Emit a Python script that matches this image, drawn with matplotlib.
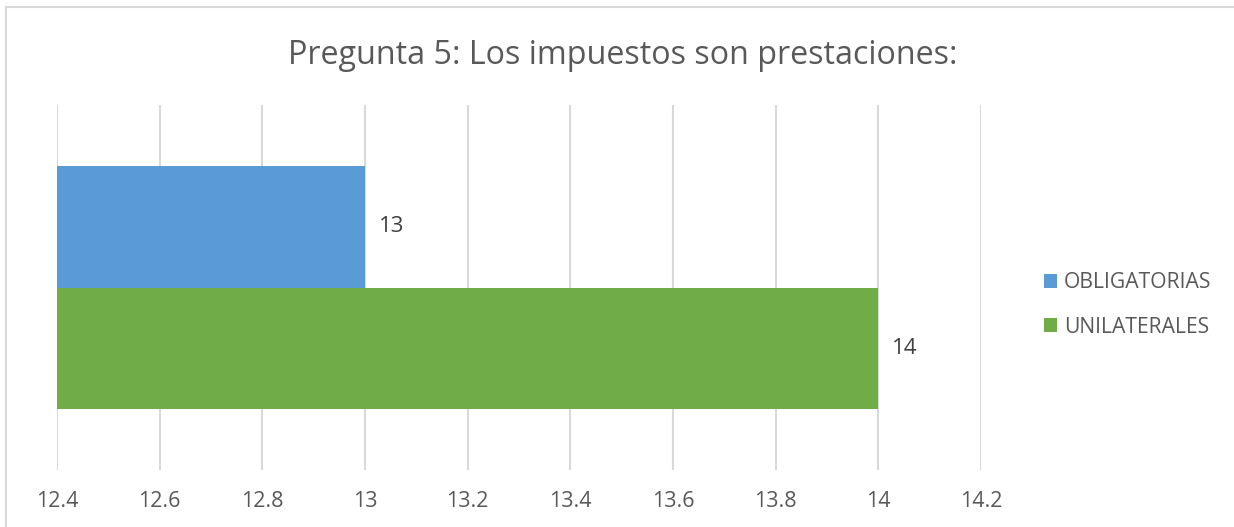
import matplotlib
matplotlib.use("Agg")
import matplotlib.pyplot as plt
from matplotlib.lines import Line2D
from matplotlib.patches import Patch

title = "Pregunta 5: Los impuestos son prestaciones:"
series_names = ["OBLIGATORIAS", "UNILATERALES"]
values = [13, 14]
colors = ["#5B9BD5", "#70AD47"]
xticks = [12.4, 12.6, 12.8, 13, 13.2, 13.4, 13.6, 13.8, 14, 14.2]
xtick_labels = ["12.4", "12.6", "12.8", "13", "13.2", "13.4", "13.6", "13.8", "14", "14.2"]

W, H = 1234, 527
plt.rcParams['font.family'] = ['Open Sans', 'DejaVu Sans']
fig = plt.figure(figsize=(W / 100, H / 100), dpi=100)
text_color = "#595959"

ax = fig.add_axes([57 / W, 1 - 470 / H, (981 - 57) / W, (470 - 105) / H])
ypos = [2, 1]
for y, v, c, n in zip(ypos, values, colors, series_names):
    ax.barh(y, v - xticks[0], left=xticks[0], height=1.0, color=c, label=n, zorder=2)
    ax.annotate(f"{v:g}", xy=(v, y), xytext=(10, 0), textcoords="offset points",
                va="center", ha="left", fontsize=16, color="#404040")

ax.set_xlim(xticks[0], xticks[-1])
ax.set_ylim(0, 3)
ax.set_xticks(xticks)
ax.set_xticklabels(xtick_labels, fontsize=15.5, color=text_color)
ax.set_yticks([])
ax.tick_params(axis='x', length=0, pad=15)
ax.grid(axis='x', color="#D9D9D9", linewidth=1.5, zorder=0)
for s in ax.spines.values():
    s.set_visible(False)

fig.text(623 / W, 1 - 55 / H, title, ha="center", va="center", fontsize=23.2, color=text_color)

handles = [Patch(facecolor=c, edgecolor='none') for c in colors]
fig.legend(handles, series_names, loc="center left", bbox_to_anchor=(1025 / W, 1 - 305 / H),
           frameon=False, fontsize=15.2, labelcolor=text_color, handlelength=0.6, handleheight=0.6,
           handletextpad=0.35, labelspacing=1.1)

# chart border (left and top visible)
fig.add_artist(Line2D([5.5 / W, 5.5 / W], [0, 1 - 7 / H], color="#D9D9D9", linewidth=1.5))
fig.add_artist(Line2D([5.5 / W, 1], [1 - 7 / H, 1 - 7 / H], color="#D9D9D9", linewidth=1.5))

fig.savefig("out.png", dpi=100)
